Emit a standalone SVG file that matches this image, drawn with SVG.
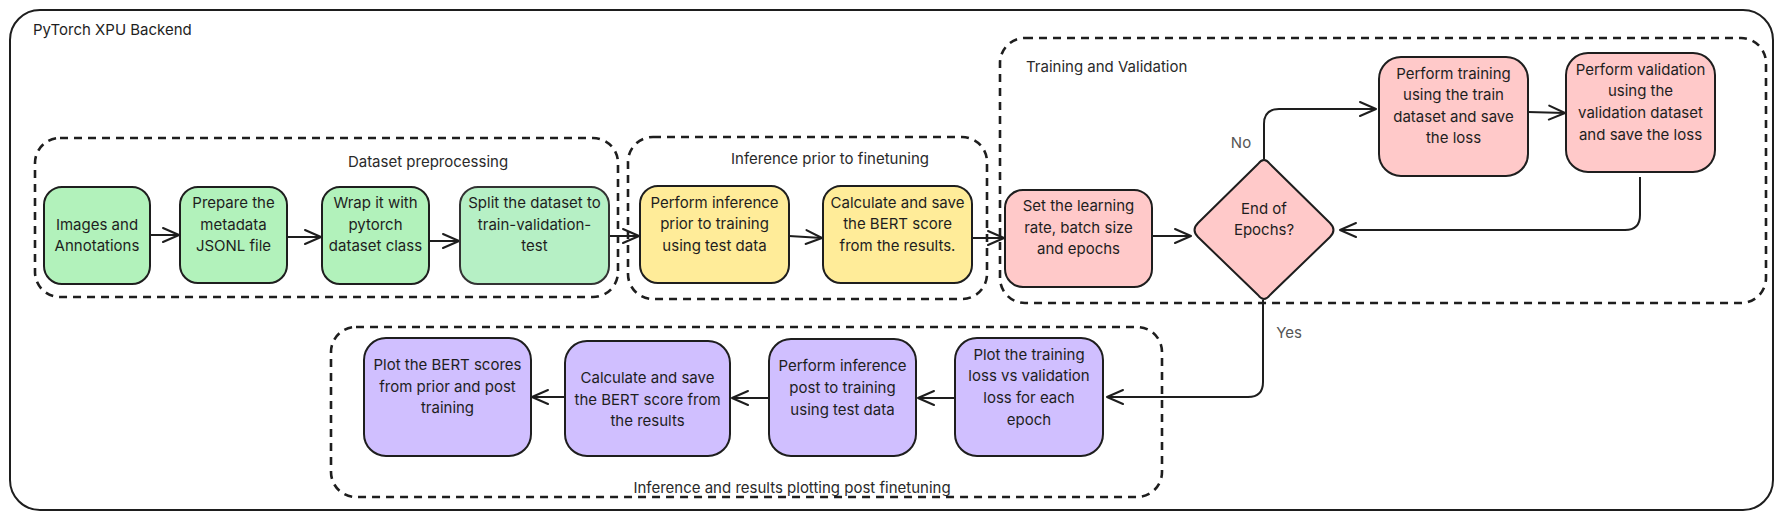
<svg xmlns="http://www.w3.org/2000/svg" width="1783" height="520" viewBox="0 0 1783 520">
<style>
text{font-family:Inter,"Noto Sans","Liberation Sans",sans-serif;fill:#1e1e1e;}
.t{font-size:15px;text-anchor:middle;}
.lbl{font-size:15px;text-anchor:middle;fill:#2a2a2a;}
.yn{font-size:15px;text-anchor:middle;fill:#555;}
.grp{fill:none;stroke:#1e1e1e;stroke-width:2.6;stroke-dasharray:8 6;}
.n{stroke:#1e1e1e;stroke-width:2;}
.g{fill:#b2f2bb;}
.g2{fill:#b6f0c5;stroke:#333;}
.y{fill:#ffec99;}
.p{fill:#ffc9c9;}
.v{fill:#d0bfff;}
.c path{fill:none;stroke:#1e1e1e;stroke-width:2;}
</style>
<defs>
<marker id="ah" markerUnits="userSpaceOnUse" markerWidth="30" markerHeight="30" refX="0" refY="0" viewBox="-20 -15 30 30" orient="auto" overflow="visible">
<path d="M-16,-7 L0,0 L-16,7" fill="none" stroke="#1e1e1e" stroke-width="2" stroke-linecap="round" stroke-linejoin="round"/>
</marker>
</defs>
<rect width="1783" height="520" fill="#fff"/>
<g id="frame">
<rect x="10" y="10" width="1763" height="500" rx="30" fill="none" stroke="#1e1e1e" stroke-width="2"/>
<text x="33" y="35" style="font-size:15px">PyTorch XPU Backend</text>
</g>
<g id="grp-dataset">
<rect class="grp" x="35" y="138" width="583" height="159" rx="25"/>
<text class="lbl" x="428" y="167">Dataset preprocessing</text>
</g>
<g id="grp-prior">
<rect class="grp" x="628" y="137" width="359" height="162" rx="25"/>
<text class="lbl" x="830" y="164">Inference prior to finetuning</text>
</g>
<g id="grp-train">
<rect class="grp" x="1000" y="38" width="766" height="265" rx="25"/>
<text x="1026" y="72" style="font-size:15px;fill:#2a2a2a">Training and Validation</text>
</g>
<g id="grp-post">
<rect class="grp" x="331" y="327" width="831" height="170" rx="25"/>
<text class="lbl" x="792" y="493">Inference and results plotting post finetuning</text>
</g>

<g class="c" id="connectors">
<path d="M150,235 L179,235" marker-end="url(#ah)"/>
<path d="M287,237 L321,237" marker-end="url(#ah)"/>
<path d="M429,241 L459,241" marker-end="url(#ah)"/>
<path d="M609,236 L639,236" marker-end="url(#ah)"/>
<path d="M789,236 L822,238" marker-end="url(#ah)"/>
<path d="M972,238 L1004,238" marker-end="url(#ah)"/>
<path d="M1152,236 L1191,236" marker-end="url(#ah)"/>
<path d="M1264,159 L1264,124 Q1264,109 1279,109 L1376,109" marker-end="url(#ah)"/>
<path d="M1528,112 L1565,113" marker-end="url(#ah)"/>
<path d="M1640,177 L1640,215 Q1640,230 1625,230 L1340,230" marker-end="url(#ah)"/>
<path d="M1263,300 L1263,382 Q1263,397 1248,397 L1107,397" marker-end="url(#ah)"/>
<path d="M955,398 L918,398" marker-end="url(#ah)"/>
<path d="M769,398 L732,398" marker-end="url(#ah)"/>
<path d="M565,397 L532,397" marker-end="url(#ah)"/>
<text class="yn" x="1241" y="148">No</text>
<text class="yn" x="1289" y="338">Yes</text>
</g>

<g id="n1"><rect class="n g" x="44" y="187" width="106" height="97" rx="18"/>
<text class="t" x="97" y="230">Images and</text><text class="t" x="97" y="251">Annotations</text></g>
<g id="n2"><rect class="n g" x="180" y="187" width="107" height="96" rx="18"/>
<text class="t" x="233.5" y="208">Prepare the</text><text class="t" x="233.5" y="230">metadata</text><text class="t" x="233.5" y="251">JSONL file</text></g>
<g id="n3"><rect class="n g" x="322" y="187" width="107" height="97" rx="18"/>
<text class="t" x="375.5" y="208">Wrap it with</text><text class="t" x="375.5" y="230">pytorch</text><text class="t" x="375.5" y="251">dataset class</text></g>
<g id="n4"><rect class="n g2" x="460" y="187" width="149" height="97" rx="18"/>
<text class="t" x="534.5" y="208">Split the dataset to</text><text class="t" x="534.5" y="230">train-validation-</text><text class="t" x="534.5" y="251">test</text></g>

<g id="n5"><rect class="n y" x="640" y="186" width="149" height="97" rx="18"/>
<text class="t" x="714.5" y="208">Perform inference</text><text class="t" x="714.5" y="229">prior to training</text><text class="t" x="714.5" y="251">using test data</text></g>
<g id="n6"><rect class="n y" x="823" y="186" width="149" height="97" rx="18"/>
<text class="t" x="897.5" y="208">Calculate and save</text><text class="t" x="897.5" y="229">the BERT score</text><text class="t" x="897.5" y="251">from the results.</text></g>

<g id="n7"><rect class="n p" x="1005" y="190" width="147" height="97" rx="18"/>
<text class="t" x="1078.5" y="211">Set the learning</text><text class="t" x="1078.5" y="233">rate, batch size</text><text class="t" x="1078.5" y="254">and epochs</text></g>
<g id="n8"><path class="n p" d="M1258,164 Q1264,156 1270,164 L1330,223 Q1337,230 1330,237 L1270,295 Q1264,303 1258,295 L1198,237 Q1191,230 1198,223 Z" stroke-linejoin="round"/>
<text class="t" x="1264" y="214">End of</text><text class="t" x="1264" y="235">Epochs?</text></g>
<g id="n9"><rect class="n p" x="1379" y="57" width="149" height="119" rx="22"/>
<text class="t" x="1453.5" y="79">Perform training</text><text class="t" x="1453.5" y="100">using the train</text><text class="t" x="1453.5" y="122">dataset and save</text><text class="t" x="1453.5" y="143">the loss</text></g>
<g id="n10"><rect class="n p" x="1566" y="53" width="149" height="119" rx="22"/>
<text class="t" x="1640.5" y="75">Perform validation</text><text class="t" x="1640.5" y="96">using the</text><text class="t" x="1640.5" y="118">validation dataset</text><text class="t" x="1640.5" y="140">and save the loss</text></g>

<g id="n11"><rect class="n v" x="955" y="338" width="148" height="118" rx="22"/>
<text class="t" x="1029" y="360">Plot the training</text><text class="t" x="1029" y="381">loss vs validation</text><text class="t" x="1029" y="403">loss for each</text><text class="t" x="1029" y="425">epoch</text></g>
<g id="n12"><rect class="n v" x="769" y="339" width="147" height="117" rx="22"/>
<text class="t" x="842.5" y="371">Perform inference</text><text class="t" x="842.5" y="393">post to training</text><text class="t" x="842.5" y="415">using test data</text></g>
<g id="n13"><rect class="n v" x="565" y="341" width="165" height="115" rx="22"/>
<text class="t" x="647.5" y="383">Calculate and save</text><text class="t" x="647.5" y="405">the BERT score from</text><text class="t" x="647.5" y="426">the results</text></g>
<g id="n14"><rect class="n v" x="364" y="338" width="167" height="118" rx="22"/>
<text class="t" x="447.5" y="370">Plot the BERT scores</text><text class="t" x="447.5" y="392">from prior and post</text><text class="t" x="447.5" y="413">training</text></g>
</svg>
